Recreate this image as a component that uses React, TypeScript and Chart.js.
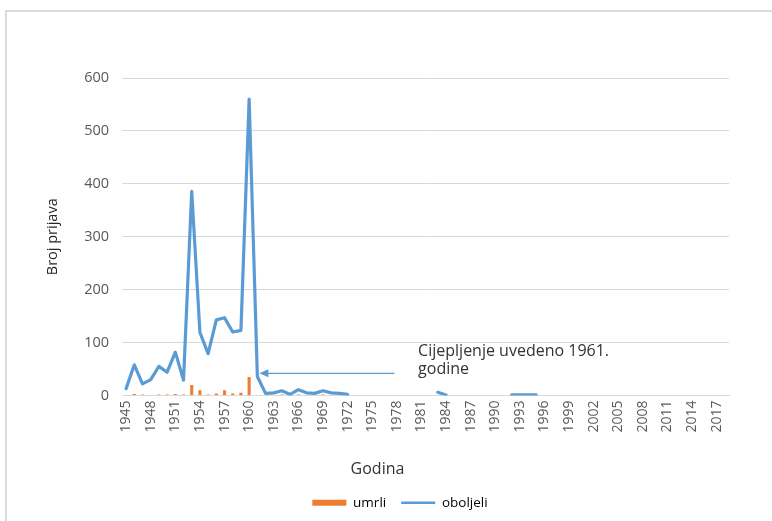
import React, { useEffect, useRef } from 'react';
import { Chart, registerables } from 'chart.js';

Chart.register(...registerables);

const years = [
  '1945', '1946', '1947', '1948', '1949', '1950', '1951', '1952', '1953', '1954',
  '1955', '1956', '1957', '1958', '1959', '1960', '1961', '1962', '1963', '1964',
  '1965', '1966', '1967', '1968', '1969', '1970', '1971', '1972', '1973', '1974',
  '1975', '1976', '1977', '1978', '1979', '1980', '1981', '1982', '1983', '1984',
  '1985', '1986', '1987', '1988', '1989', '1990', '1991', '1992', '1993', '1994',
  '1995', '1996', '1997', '1998', '1999', '2000', '2001', '2002', '2003', '2004',
  '2005', '2006', '2007', '2008', '2009', '2010', '2011', '2012', '2013', '2014',
  '2015', '2016', '2017', '2018',
];

// oboljeli (cases)
const oboljeli: (number | null)[] = [
  13, 58, 22, 30, 55, 44, 82, 29, 386, 119,
  79, 143, 147, 120, 123, 560, 36, 4, 5, 9,
  2, 11, 5, 4, 9, 5, 4, 2, null, null,
  null, null, null, null, null, null, null, null, 6, 1,
  null, null, null, null, null, null, null, 1, 1, 1,
  1, null, null, null, null, null, null, null, null, null,
  null, null, null, null, null, null, null, null, null, null,
  null, null, null, null,
];

// umrli (deaths)
const umrli: (number | null)[] = [
  1, 3, 2, null, 2, 2, 3, 2, 20, 10,
  2, 4, 10, 4, 5, 35, 1, null, null, 2,
  null, 2, null, null, 2, null, null, null, null, null,
  null, null, null, null, null, null, null, null, null, null,
  null, null, null, null, null, null, null, null, null, null,
  null, null, null, null, null, null, null, null, null, null,
  null, null, null, null, null, null, null, null, null, null,
  null, null, null, null,
];

const Y_MAX = 600;
const Y_STEP = 100;
const TICK_EVERY = 3;

const seriesNames = ['umrli', 'oboljeli'];
const yTitle = 'Broj prijava';
const xTitle = 'Godina';
const noteLines = ['Cijepljenje uvedeno 1961.', 'godine'];
// annotation anchors in data space: [category index, value]
const noteAt: [number, number] = [35.6, 84];
const arrowTail: [number, number] = [32.7, 42];
const arrowTip: [number, number] = [16.25, 42];

const LINE_COLOR = '#5B9BD5';
const BAR_COLOR = '#ED7D31';
const FONT = '"Open Sans", "Noto Sans", sans-serif';

export default function App() {
  const ref = useRef<HTMLCanvasElement>(null);

  useEffect(() => {
    let chart: Chart | null = null;
    let cancelled = false;

    const annot = {
      id: 'annot',
      afterDatasetsDraw(c: any) {
        const { ctx, scales, chartArea } = c;
        const x = scales.x;
        const y = scales.y;
        ctx.save();
        const x1 = x.getPixelForValue(arrowTail[0]);
        const y1 = y.getPixelForValue(arrowTail[1]);
        const x2 = x.getPixelForValue(arrowTip[0]);
        const y2 = y.getPixelForValue(arrowTip[1]);
        ctx.strokeStyle = LINE_COLOR;
        ctx.lineWidth = 1.25;
        ctx.beginPath();
        ctx.moveTo(x1, y1);
        ctx.lineTo(x2 + 8, y2);
        ctx.stroke();
        ctx.fillStyle = LINE_COLOR;
        ctx.beginPath();
        ctx.moveTo(x2, y2);
        ctx.lineTo(x2 + 9, y2 - 4);
        ctx.lineTo(x2 + 9, y2 + 4);
        ctx.closePath();
        ctx.fill();

        ctx.font = '16px ' + FONT;
        ctx.fillStyle = '#333333';
        ctx.textAlign = 'left';
        ctx.textBaseline = 'middle';
        const tx = x.getPixelForValue(noteAt[0]);
        const ty = y.getPixelForValue(noteAt[1]);
        noteLines.forEach((t, i) => ctx.fillText(t, tx, ty + i * 18.3));

        ctx.font = '16px ' + FONT;
        ctx.textAlign = 'center';
        ctx.fillText(xTitle, (chartArea.left + chartArea.right) / 2 - 48, chartArea.bottom + 74);
        ctx.restore();
      },
    };

    const build = () => {
      if (cancelled || !ref.current) return;
      chart = new Chart(ref.current, {
        type: 'bar',
        data: {
          labels: years,
          datasets: [
            {
              type: 'bar',
              label: seriesNames[0],
              data: umrli,
              backgroundColor: BAR_COLOR,
              borderWidth: 0,
              barPercentage: 0.38,
              categoryPercentage: 1,
              order: 2,
            } as any,
            {
              type: 'line',
              label: seriesNames[1],
              data: oboljeli,
              borderColor: LINE_COLOR,
              backgroundColor: LINE_COLOR,
              borderWidth: 3.2,
              pointRadius: 0,
              tension: 0,
              spanGaps: false,
              borderJoinStyle: 'round',
              borderCapStyle: 'round',
              order: 1,
            } as any,
          ],
        },
        options: {
          responsive: false,
          animation: false,
          devicePixelRatio: 1,
          layout: { padding: { left: 71, right: 43, top: 78, bottom: 1.5 } },
          plugins: {
            tooltip: { enabled: false },
            title: { display: false },
            legend: {
              display: true,
              position: 'bottom',
              align: 'center',
              labels: {
                usePointStyle: true,
                pointStyleWidth: 34,
                boxHeight: 6,
                padding: 15,
                color: '#595959',
                font: { family: FONT, size: 13.5 },
                generateLabels: () => [
                  {
                    text: seriesNames[0],
                    fillStyle: BAR_COLOR,
                    strokeStyle: BAR_COLOR,
                    lineWidth: 0,
                    pointStyle: 'rect',
                    hidden: false,
                    datasetIndex: 0,
                  },
                  {
                    text: seriesNames[1],
                    fillStyle: LINE_COLOR,
                    strokeStyle: LINE_COLOR,
                    lineWidth: 2.5,
                    pointStyle: 'line',
                    hidden: false,
                    datasetIndex: 1,
                  },
                ] as any,
              },
            },
          },
          scales: {
            x: {
              type: 'category',
              offset: true,
              grid: { display: false, drawTicks: false },
              border: { display: true, color: '#d9d9d9', width: 1 },
              ticks: {
                autoSkip: false,
                minRotation: 90,
                maxRotation: 90,
                padding: 5,
                color: '#595959',
                font: { family: FONT, size: 14 },
                callback: (_v: any, i: number) => (i % TICK_EVERY === 0 ? years[i] : ''),
              },
              afterFit: (s: any) => {
                s.height = 85.5;
              },
            },
            y: {
              min: 0,
              max: Y_MAX,
              grid: { color: '#d9d9d9', drawTicks: false, lineWidth: 1 },
              border: { display: false },
              ticks: {
                stepSize: Y_STEP,
                padding: 13,
                color: '#595959',
                font: { family: FONT, size: 14.5 },
              },
              title: {
                display: true,
                text: yTitle,
                color: '#262626',
                font: { family: FONT, size: 14.5, lineHeight: 1.2 },
                padding: { top: -26.7, bottom: 0 },
              },
              afterFit: (s: any) => {
                s.width = 51;
              },
            },
          },
        },
        plugins: [annot],
      } as any);
    };

    if ((document as any).fonts && (document as any).fonts.load) {
      Promise.all([
        (document as any).fonts.load('14px "Open Sans"'),
      ]).then(build, build);
    } else {
      build();
    }

    return () => {
      cancelled = true;
      if (chart) chart.destroy();
    };
  }, []);

  return (
    <div
      style={{
        position: 'absolute',
        left: 0,
        top: 0,
        width: 772,
        height: 521,
        overflow: 'hidden',
        background: '#ffffff',
      }}
    >
      <div
        style={{
          position: 'absolute',
          left: 5,
          top: 10,
          right: -10,
          bottom: -10,
          borderTop: '2px solid #dcdcdc',
          borderLeft: '2px solid #dcdcdc',
        }}
      />
      <canvas ref={ref} width={772} height={521} style={{ position: 'absolute', left: 0, top: 0 }} />
    </div>
  );
}
